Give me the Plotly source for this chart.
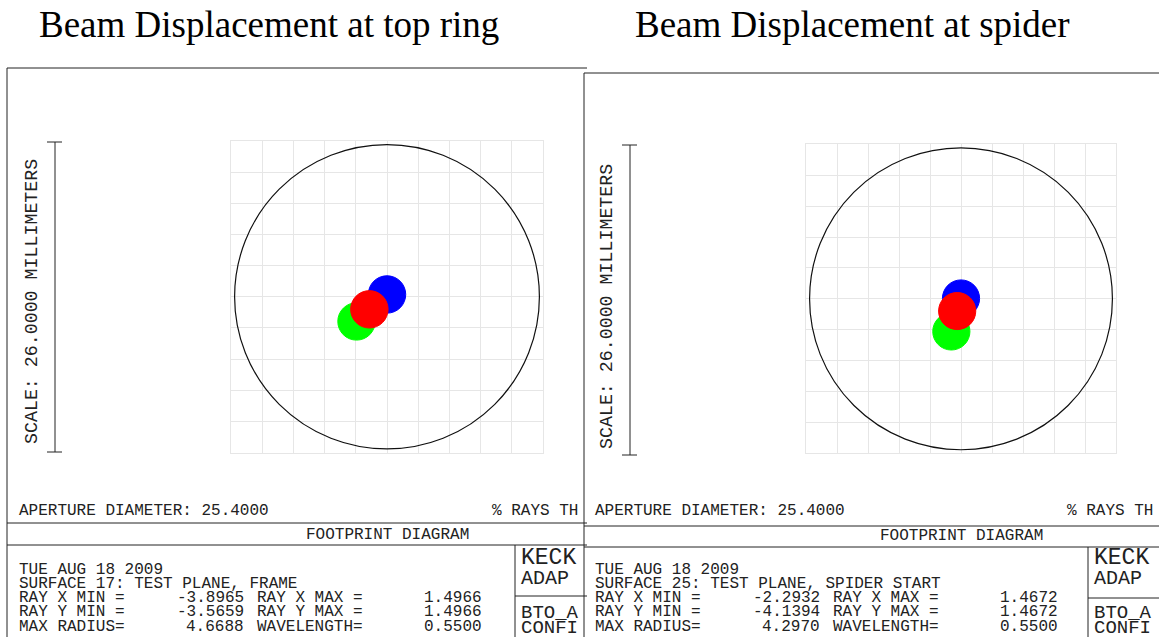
import plotly.graph_objects as go

W, H = 1159, 637

# ---------------- data ----------------
panel_titles = ["Beam Displacement at top ring", "Beam Displacement at spider"]
aperture_diameter = [25.4, 25.4]          # mm
scale_mm = [26.0, 26.0]                   # full plot scale (mm)
grid_ticks = [-13.0, -10.4, -7.8, -5.2, -2.6, 0.0, 2.6, 5.2, 7.8, 10.4, 13.0]

beam_colors = ["#00ff00", "#0000ff", "#ff0000"]   # green, blue, red (draw order)
beam_radius = [1.56, 1.56]
top_ring_x = [-2.54, 0.00, -1.47]
top_ring_y = [-2.06, 0.19, -1.05]
spider_x = [-0.81, 0.00, -0.32]
spider_y = [-2.75, 0.03, -1.03]

surface_labels = ["SURFACE 17: TEST PLANE, FRAME", "SURFACE 25: TEST PLANE, SPIDER START"]
ray_x_min = ["-3.8965", "-2.2932"]
ray_x_max = ["1.4966", "1.4672"]
ray_y_min = ["-3.5659", "-4.1394"]
ray_y_max = ["1.4966", "1.4672"]
max_radius = ["4.6688", "4.2970"]
wavelength = ["0.5500", "0.5500"]
date_label = "TUE AUG 18 2009"

# ---------------- helpers ----------------
def px(x):
    return x / W

def py(y):
    return 1 - y / H

def nb(s):
    return s.replace(" ", "\u00a0")

MONO = "Liberation Mono"
INK = "#222222"

fig = go.Figure()

panels = [
    dict(ax="x", ay="y", box=(231, 543, 141, 452.5),
         frame_left=7, frame_top=68, frame_right=587,
         bar_x=55, bar_top=142, bar_bot=452, scale_text=(32, 302),
         line1=523, line2=545, keck_x=515, keck_line=596,
         text_x=17, ap_y=511, rays_x=490, rays_text="% RAYS TH",
         fp_x=387, fp_y=535, rows=[570, 584, 598, 612, 627],
         cx=top_ring_x, cy=top_ring_y),
    dict(ax="x2", ay="y2", box=(806, 1116, 144.3, 453.3),
         frame_left=584, frame_top=73, frame_right=1159,
         bar_x=630, bar_top=145, bar_bot=455, scale_text=(607, 306),
         line1=526, line2=547, keck_x=1088, keck_line=598,
         text_x=593, ap_y=511, rays_x=1065, rays_text="% RAYS TH",
         fp_x=961, fp_y=536, rows=[570, 584, 598, 612, 627],
         cx=spider_x, cy=spider_y),
]

shapes = []
annotations = []
layout_axes = {}

for i, p in enumerate(panels):
    x0, x1, y0, y1 = p["box"]
    half = scale_mm[i] / 2
    axname = "xaxis" if i == 0 else "xaxis2"
    ayname = "yaxis" if i == 0 else "yaxis2"
    common = dict(range=[-half, half], tickvals=grid_ticks, showticklabels=False,
                  ticks="", showgrid=True, gridcolor="#e6e6e6", gridwidth=1,
                  zeroline=False, showline=True, mirror=True, linecolor="#e6e6e6",
                  linewidth=1, fixedrange=True)
    layout_axes[axname] = dict(common, domain=[px(x0), px(x1)], anchor=p["ay"])
    layout_axes[ayname] = dict(common, domain=[py(y1), py(y0)], anchor=p["ax"])

    fig.add_trace(go.Scatter(x=[0], y=[0], xaxis=p["ax"], yaxis=p["ay"],
                             mode="markers", marker=dict(opacity=0),
                             hoverinfo="skip", showlegend=False))

    shapes.append(dict(type="rect", xref="paper", yref="paper", layer="below",
                       x0=px(p["frame_left"]), x1=px(p["frame_right"]),
                       y0=py(H), y1=py(p["frame_top"]),
                       fillcolor="white", line=dict(width=0)))
    shapes.append(dict(type="line", xref="paper", yref="paper",
                       x0=px(p["frame_left"]), x1=px(p["frame_right"]),
                       y0=py(p["frame_top"]), y1=py(p["frame_top"]),
                       line=dict(color=INK, width=1)))
    shapes.append(dict(type="line", xref="paper", yref="paper",
                       x0=px(p["frame_left"]), x1=px(p["frame_left"]),
                       y0=py(p["frame_top"]), y1=py(H),
                       line=dict(color=INK, width=1)))
    for ly in (p["line1"], p["line2"]):
        shapes.append(dict(type="line", xref="paper", yref="paper",
                           x0=px(p["frame_left"]), x1=px(p["frame_right"]),
                           y0=py(ly), y1=py(ly), line=dict(color=INK, width=1)))
    shapes.append(dict(type="line", xref="paper", yref="paper",
                       x0=px(p["keck_x"]), x1=px(p["keck_x"]),
                       y0=py(p["line2"]), y1=py(H), line=dict(color=INK, width=1)))
    shapes.append(dict(type="line", xref="paper", yref="paper",
                       x0=px(p["keck_x"]), x1=px(p["frame_right"]),
                       y0=py(p["keck_line"]), y1=py(p["keck_line"]),
                       line=dict(color=INK, width=1)))
    bx = p["bar_x"]
    shapes.append(dict(type="line", xref="paper", yref="paper",
                       x0=px(bx), x1=px(bx), y0=py(p["bar_top"]), y1=py(p["bar_bot"]),
                       line=dict(color=INK, width=1)))
    for yy in (p["bar_top"], p["bar_bot"]):
        shapes.append(dict(type="line", xref="paper", yref="paper",
                           x0=px(bx - 8), x1=px(bx + 7), y0=py(yy), y1=py(yy),
                           line=dict(color=INK, width=1)))

    r_ap = aperture_diameter[i] / 2
    shapes.append(dict(type="circle", xref=p["ax"], yref=p["ay"],
                       x0=-r_ap, x1=r_ap, y0=-r_ap, y1=r_ap,
                       line=dict(color="#111111", width=1.2)))
    r = beam_radius[i]
    for cx, cy, col in zip(p["cx"], p["cy"], beam_colors):
        shapes.append(dict(type="circle", xref=p["ax"], yref=p["ay"],
                           x0=cx - r, x1=cx + r, y0=cy - r, y1=cy + r,
                           fillcolor=col, line=dict(color=col, width=1)))

    def txt(x, y, s, size=16, xanchor="left", angle=0, family=MONO):
        annotations.append(dict(xref="paper", yref="paper", x=px(x), y=py(y),
                                text=nb(s), showarrow=False, xanchor=xanchor,
                                yanchor="middle", textangle=angle,
                                font=dict(family=family, size=size, color=INK)))

    tx = p["text_x"]
    txt(p["scale_text"][0], p["scale_text"][1],
        "SCALE: %.4f MILLIMETERS" % scale_mm[i], size=18.3,
        xanchor="center", angle=-90)
    txt(tx, p["ap_y"], "APERTURE DIAMETER: %.4f" % aperture_diameter[i])
    txt(p["rays_x"], p["ap_y"], p["rays_text"])
    txt(p["fp_x"], p["fp_y"], "FOOTPRINT DIAGRAM", xanchor="center")
    rws = p["rows"]
    txt(tx, rws[0], date_label)
    txt(tx, rws[1], surface_labels[i])
    table = [
        ("RAY X MIN =", ray_x_min[i], "RAY X MAX =", ray_x_max[i]),
        ("RAY Y MIN =", ray_y_min[i], "RAY Y MAX =", ray_y_max[i]),
        ("MAX RADIUS=", max_radius[i], "WAVELENGTH=", wavelength[i]),
    ]
    for ry, (l1, v1, l2, v2) in zip(rws[2:], table):
        txt(tx, ry, l1)
        txt(tx + 229, ry, v1, xanchor="right")
        txt(tx + 238, ry, l2)
        txt(tx + 467, ry, v2, xanchor="right")
    kx = p["keck_x"] + 4
    txt(kx, 558, "KECK", size=23)
    txt(kx, 578, "ADAP", size=20)
    txt(kx, 613, "BTO_A", size=19)
    txt(kx, 628, "CONFI", size=19)

for tx, t in zip([37, 633], panel_titles):
    annotations.append(dict(xref="paper", yref="paper", x=px(tx), y=py(24),
                            text=t, showarrow=False, xanchor="left", yanchor="middle",
                            font=dict(family="Liberation Serif", size=37, color="#000000")))

fig.update_layout(width=W, height=H, margin=dict(l=0, r=0, t=0, b=0),
                  paper_bgcolor="white", plot_bgcolor="rgba(0,0,0,0)",
                  showlegend=False, shapes=shapes, annotations=annotations,
                  **layout_axes)

fig.write_html("out.html", config={"displayModeBar": False},
               post_script="document.body.style.margin='0';document.body.style.overflow='hidden';")
